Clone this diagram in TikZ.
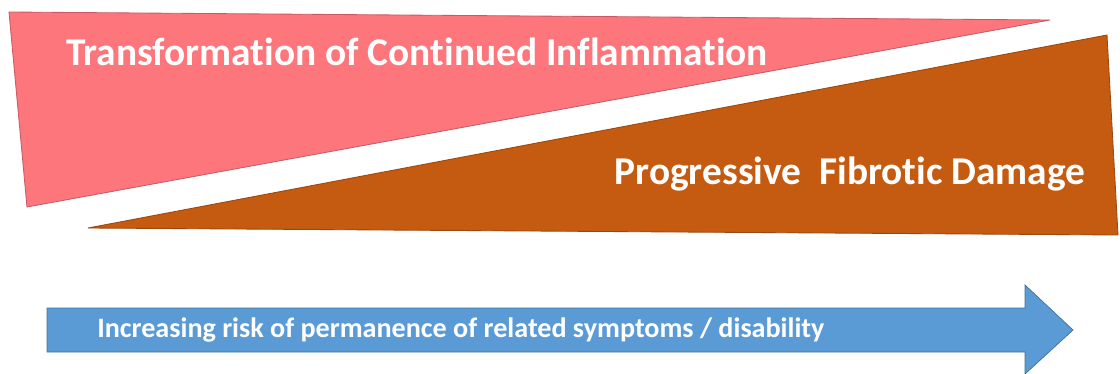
\documentclass[tikz,border=0pt]{standalone}
\usepackage{fontspec}
\setmainfont{Carlito}[Ligatures=NoCommon]
\usepackage{tikz}
\usetikzlibrary{positioning,calc}
\definecolor{inflrose}{HTML}{FC767C}
\definecolor{inflrosedark}{HTML}{C65A66}
\definecolor{fibbrun}{HTML}{C55A11}
\definecolor{fibbrundark}{HTML}{9C470D}
\definecolor{riskbleu}{HTML}{5B9BD5}
\definecolor{riskbleudark}{HTML}{41719C}

\begin{document}
\begin{tikzpicture}[x=0.025cm,y=-0.025cm,
  bandtext/.style={text=white,font=\bfseries\fontsize{28}{32}\selectfont,inner sep=0pt},
  risktext/.style={text=white,font=\bfseries\fontsize{20}{24}\selectfont,inner sep=0pt,anchor=west}]
  \useasboundingbox (0,0) rectangle (1120,374);
  % wedges
  \coordinate (iTL) at (9,12);
  \coordinate (iTR) at (1050,20);
  \coordinate (iBL) at (27,207);
  \coordinate (fTR) at (1107,35);
  \coordinate (fBR) at (1118,235);
  \coordinate (fBL) at (88,228);
  \filldraw[fill=inflrose,draw=inflrosedark,line width=0.6pt] (iTL) -- (iTR) -- (iBL) -- cycle;
  \filldraw[fill=fibbrun,draw=fibbrundark,line width=0.6pt] (fTR) -- (fBR) -- (fBL) -- cycle;
  \node[bandtext] (infl) at (417,52) {Transformation of Continued Inflammation};
  \node[bandtext] (fib) at (850,174) {Progressive\ \ Fibrotic Damage};
  % arrow
  \filldraw[fill=riskbleu,draw=riskbleudark,line width=0.5pt]
    (47,308) -- (1025,308) -- (1025,285) -- (1073,330) -- (1025,374) -- (1025,352) -- (47,352) -- cycle;
  \node[risktext] (risk) at (97,330) {Increasing risk of permanence of related symptoms / disability};
\end{tikzpicture}
\end{document}
